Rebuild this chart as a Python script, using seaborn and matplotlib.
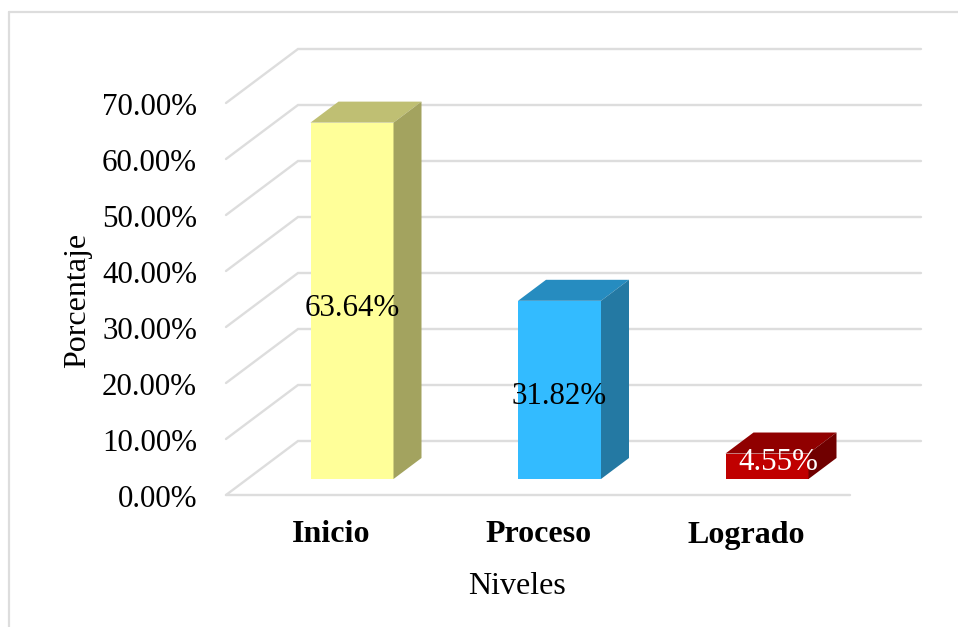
import numpy as np
import pandas as pd
import matplotlib
matplotlib.use('Agg')
import matplotlib.pyplot as plt
from matplotlib.lines import Line2D
from matplotlib.patches import Polygon
import seaborn as sns

# Data
niveles = ['Inicio', 'Proceso', 'Logrado']
porcentaje = [63.64, 31.82, 4.55]
etiquetas = ['63.64%', '31.82%', '4.55%']
y_ticks = [0, 10, 20, 30, 40, 50, 60, 70]

# Colours per bar: front, top, side
front_cols = ['#FFFF99', '#33BBFF', '#C00000']
top_cols = ['#BFBF73', '#268CC0', '#900000']
side_cols = ['#A3A35F', '#2479A3', '#700000']
label_cols = ['black', 'black', 'white']
label_shift = [-1.4, -1.2, 0.75]

grid_col = '#DDDDDD'
W, H = 958, 627
PX_X = 207.5   # pixels per category
PX_Y = 5.6     # pixels per percentage point
X0, Y0 = 352.0, 479


def xd(px):
    return (px - X0) / PX_X


sns.set_style('white')
plt.rcParams['font.family'] = ['Liberation Serif', 'DejaVu Serif']
plt.rcParams['text.color'] = 'black'

df = pd.DataFrame({'Nivel': niveles, 'Porcentaje': porcentaje})

fig = plt.figure(figsize=(W / 100, H / 100), dpi=100)
ax = fig.add_axes([0, 0, 1, 1])
ax.set_xlim(xd(0), xd(W))
ax.set_ylim((Y0 - H) / PX_Y, Y0 / PX_Y)

# Walls: gridlines with perspective
front_off = (Y0 - 495) / PX_Y
back_off = (Y0 - 441) / PX_Y
for t in y_ticks:
    if t == 0:
        ax.plot([xd(226), xd(850)], [t + front_off] * 2, color=grid_col, lw=1.7, zorder=1)
    ax.plot([xd(226), xd(298), xd(921)], [t + front_off, t + back_off, t + back_off],
            color=grid_col, lw=1.7, zorder=1, solid_joinstyle='miter')
    ax.text(xd(197), t + front_off - 0.75, f'{t:.2f}%', ha='right', va='center', fontsize=22.3)

# Front faces of the bars
sns.barplot(data=df, x='Nivel', y='Porcentaje', hue='Nivel', palette=front_cols, width=0.4,
            legend=False, ax=ax, saturation=1, zorder=3, order=niveles, hue_order=niveles,
            linewidth=0)
ax.set_xlim(xd(0), xd(W))
ax.set_ylim((Y0 - H) / PX_Y, Y0 / PX_Y)

# Top and side faces, built from the bar patches
dx = 28 / PX_X
dy = 21 / PX_Y
bars = sorted(ax.patches, key=lambda p: p.get_x())
for bar, top_c, side_c in zip(bars, top_cols, side_cols):
    x0 = bar.get_x()
    x1 = x0 + bar.get_width()
    v = bar.get_height()
    ax.add_patch(Polygon([(x0, v), (x1, v), (x1 + dx, v + dy), (x0 + dx, v + dy)],
                         facecolor=top_c, edgecolor='none', zorder=3))
    ax.add_patch(Polygon([(x1, 0), (x1, v), (x1 + dx, v + dy), (x1 + dx, dy)],
                         facecolor=side_c, edgecolor='none', zorder=3))

for i, (v, txt, c, s) in enumerate(zip(porcentaje, etiquetas, label_cols, label_shift)):
    nudge = 11 / PX_X if i == 2 else 0
    ax.text(i + nudge, v / 2 + s, txt, ha='center', va='center', color=c, fontsize=22.3, zorder=5)

# Category labels sit left of the bar centres
for i, n in enumerate(niveles):
    ax.text(i - 21 / PX_X, (Y0 - 535) / PX_Y, n,
            ha='center', va='center', fontweight='bold', fontsize=23)

ax.text(xd(517), (Y0 - 587) / PX_Y, 'Niveles', ha='center', va='center', fontsize=23)
ax.text(xd(78), (Y0 - 300) / PX_Y, 'Porcentaje', ha='center', va='center', rotation=90, fontsize=23)

ax.set_axis_off()

# Chart frame: only top and left edges are inside the crop
fig.add_artist(Line2D([8.5 / W, 8.5 / W], [0, 1 - 12 / H], color=grid_col, lw=1.6))
fig.add_artist(Line2D([8.5 / W, 1], [1 - 12 / H, 1 - 12 / H], color=grid_col, lw=1.6))

fig.savefig('out.png', dpi=100)
